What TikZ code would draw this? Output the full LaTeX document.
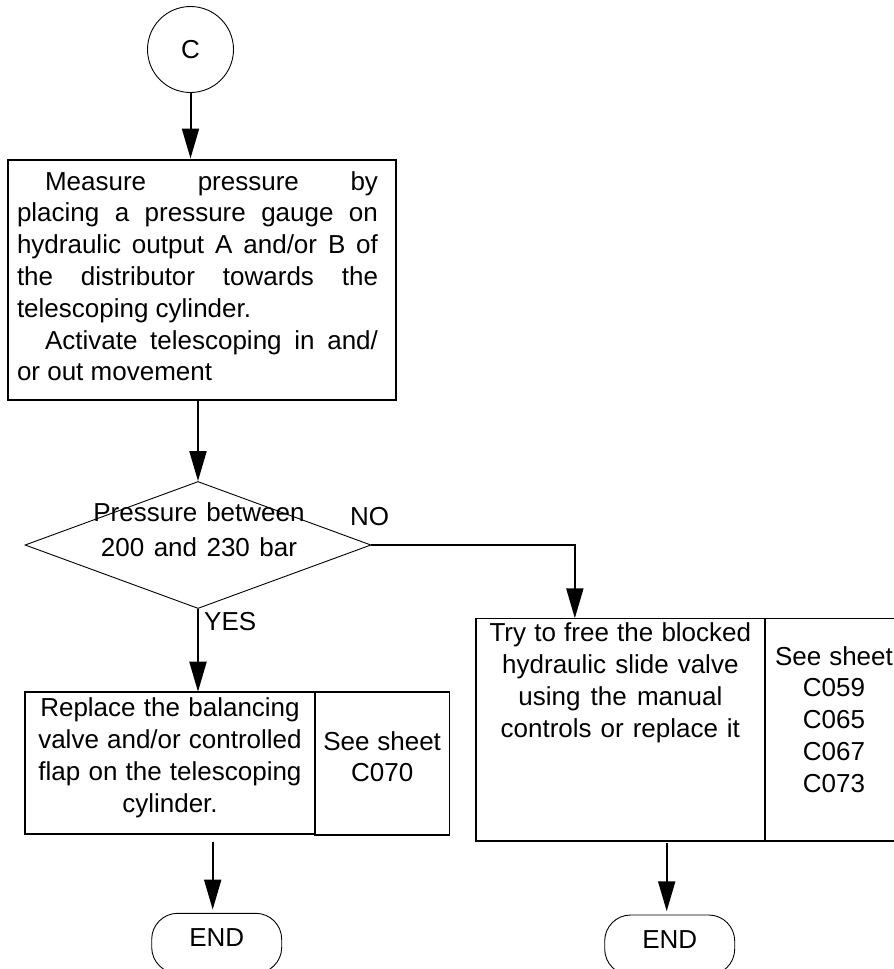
\documentclass[tikz,border=0pt]{standalone}
\usepackage{fontspec}
\setmainfont{Liberation Sans}
\usetikzlibrary{arrows.meta,shapes.geometric}
\newcommand{\jline}[1]{\makebox[361pt][s]{\spaceskip=0pt\relax #1}}
\tikzset{
  box/.style={draw, line width=1.6pt, inner sep=0pt, outer sep=0pt, anchor=north west, align=center},
  decision/.style={diamond, draw, line width=0.9pt, inner sep=0pt, minimum width=346pt, minimum height=127pt},
  terminal/.style={draw, line width=0.9pt, rounded corners=26pt, inner sep=0pt, minimum width=130pt, minimum height=60pt, text height=18.6pt, text depth=12.6pt},
  flow/.style={line width=2pt, -{Triangle[length=30pt,width=17pt]}}
}
\begin{document}
\begin{tikzpicture}[x=1pt, y=-1pt, font=\fontsize{26}{31.8}\selectfont,
  every node/.append style={execute at begin node={\spaceskip=0pt\xspaceskip=0pt\relax}}]
  \useasboundingbox (0,0) rectangle (894,969);
  \node[circle, draw, line width=0.9pt, minimum size=86pt, inner sep=0pt] (start) at (190.5,49.5) {C};

  \node[box, align=left, text width=370pt, minimum width=388pt, text height=30pt, text depth=210pt] (act1) at (8,160)
  {\jline{\hspace*{28pt}Measure pressure by}\\
   \jline{placing a pressure gauge on}\\
   \jline{hydraulic output A and/or B of}\\
   \jline{the distributor towards the}\\
   telescoping cylinder.\\
   \jline{\hspace*{28pt}Activate telescoping in and/}\\
   or out movement};

  \node[decision] (dec) at (198,545) {};
  \node[text width=260pt, align=center, inner sep=0pt, anchor=base, font=\fontsize{26}{35}\selectfont] (dectext) at (199,521.7)
  {Pressure between\\200 and 230 bar};
  \node[anchor=base west, inner sep=0pt] (no) at (350,525) {NO};
  \node[anchor=base west, inner sep=0pt] (yes) at (204,630) {YES};

  \node[box, text width=290pt, text height=25pt, text depth=117.3pt] (act2) at (25,691.7)
  {Replace the balancing\\valve and/or controlled\\flap on the telescoping\\cylinder.};
  \node[box, text width=134.3pt, text height=58.3pt, text depth=85pt] (ref2) at (act2.north east)
  {See sheet\\C070};

  \node[box, text width=289.3pt, text height=23.4pt, text depth=199pt] (act3) at (475.7,618.3)
  {Try to free the blocked\\hydraulic slide valve\\using the manual\\controls or replace it};
  \node[box, text width=138pt, text height=46.7pt, text depth=176pt] (ref3) at (act3.north east)
  {See sheet\\C059\\C065\\C067\\C073};

  \node[terminal] (end1) at (216.7,943.3) {END};
  \node[terminal] (end2) at (669.7,945) {END};

  \draw[flow, shorten >=1.5pt] (start.south) -- (start.south |- act1.north);
  \draw[flow] (act1.south -| dec.north) -- (dec.north);
  \draw[flow] (dec.south) -- (dec.south |- act2.north);
  \draw[flow] (dec.east) -| ([xshift=-45.5pt]act3.north);
  \draw[flow, shorten <=7.7pt, shorten >=3.3pt] ([xshift=-4pt]end1.north |- act2.south) -- ([xshift=-4pt]end1.north);
  \draw[flow, shorten <=2.6pt, shorten >=3.3pt] ([xshift=-3pt]end2.north |- act3.south) -- ([xshift=-3pt]end2.north);
\end{tikzpicture}
\end{document}
